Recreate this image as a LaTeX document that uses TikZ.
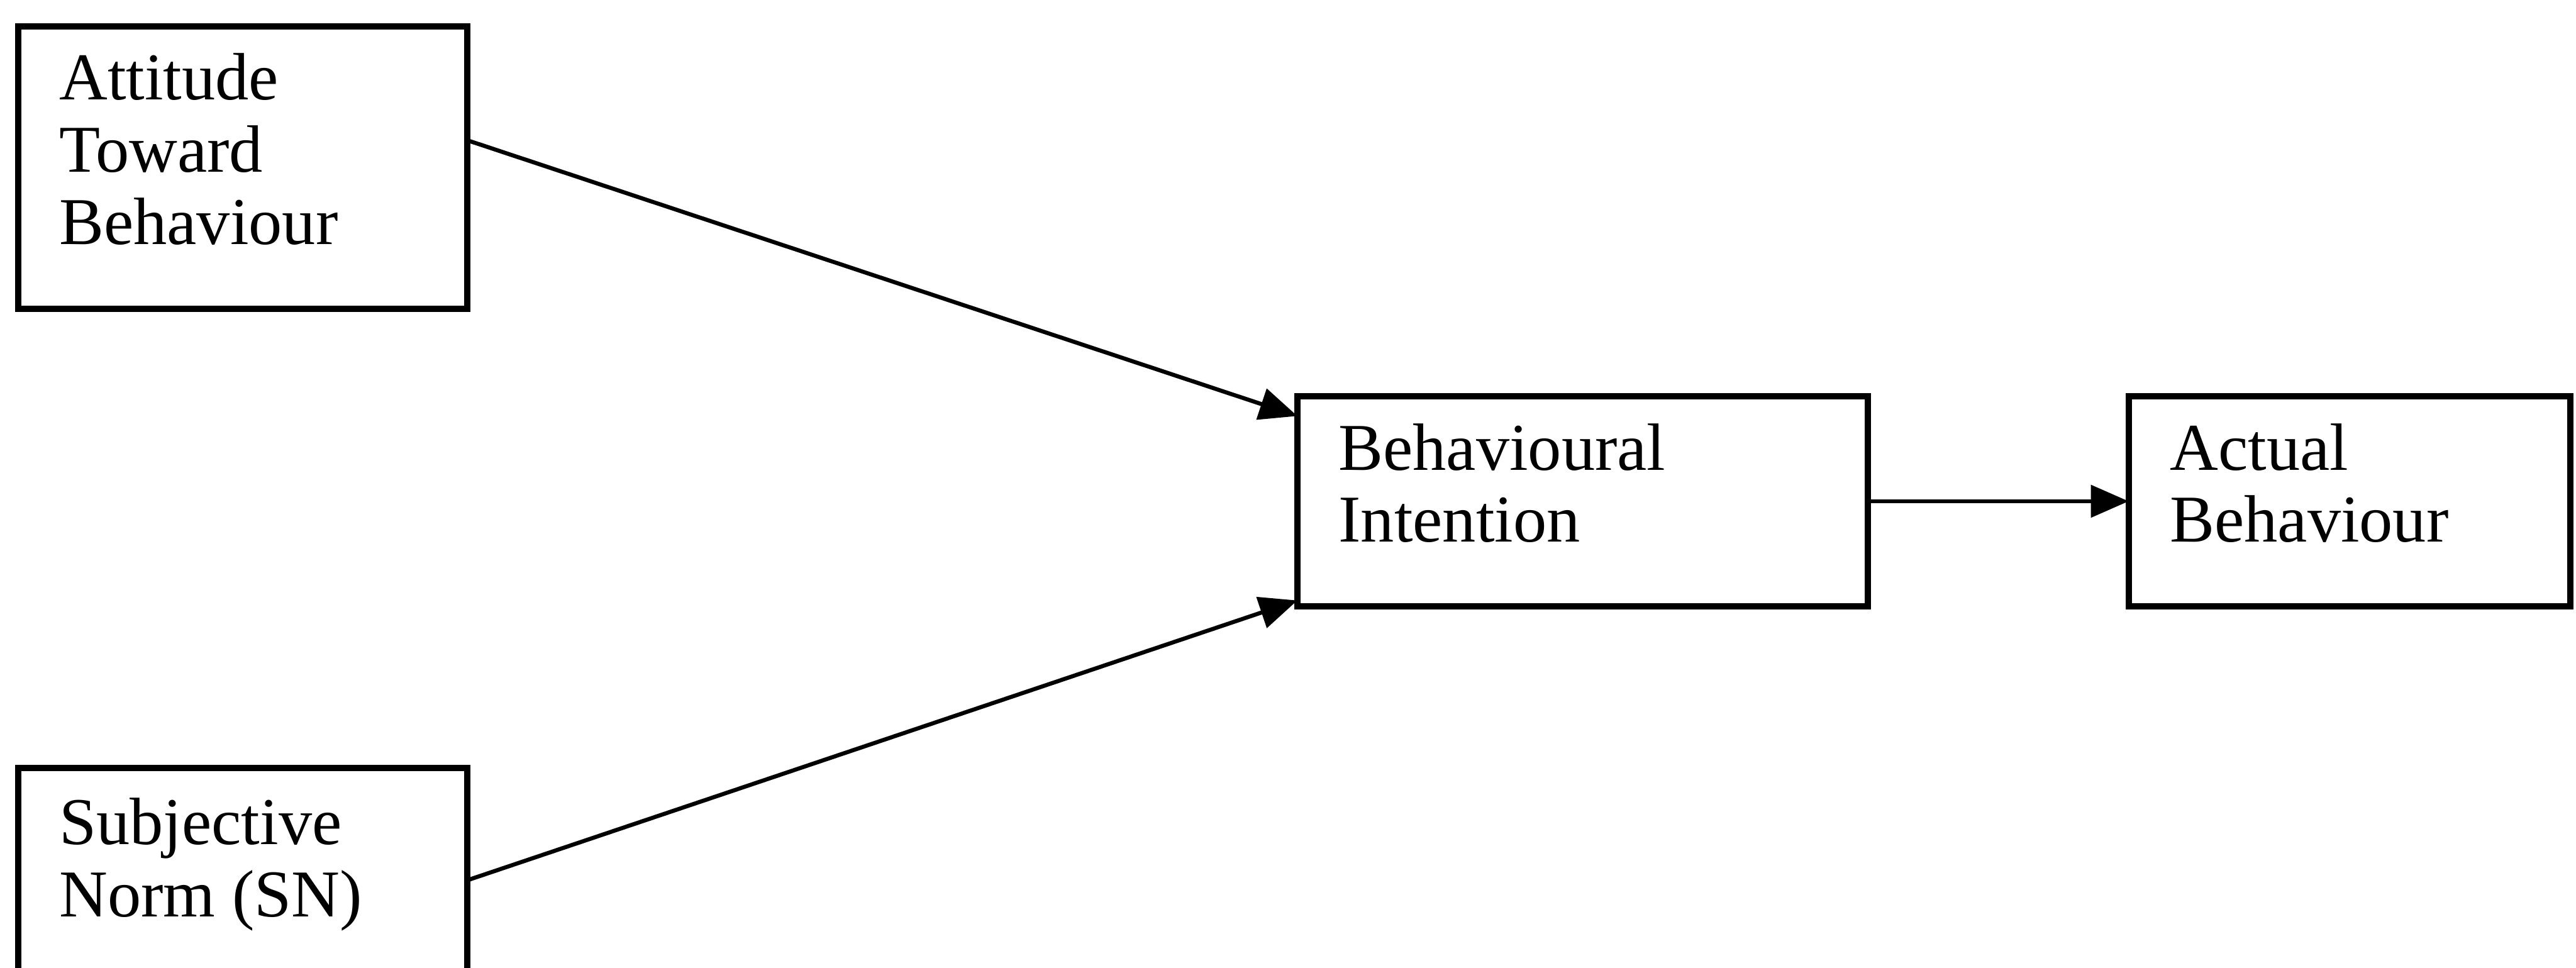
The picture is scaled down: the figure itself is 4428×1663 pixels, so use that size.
\documentclass[tikz,border=0pt]{standalone}
\usepackage{fontspec}
\setmainfont{Liberation Serif}
\usetikzlibrary{arrows.meta}
\begin{document}
\begin{tikzpicture}[x=0.1pt,y=-0.1pt,
  box/.style={draw, line width=1.1pt, rectangle, inner sep=0pt, outer sep=0pt},
  lbl/.style={anchor=north west, inner sep=0pt, outer sep=0pt, align=left,
              font=\fontsize{11.5}{12.4}\selectfont},
  link/.style={line width=0.7pt, -{Triangle[length=6.5pt,width=5.5pt]}}]
  % page area
  \clip (0,0) rectangle (4428,1663);
  \fill[white] (0,0) rectangle (4428,1663);

  % boxes (the lower-left one runs past the bottom edge)
  \node[box, minimum width=77.2pt, minimum height=48.6pt] (att) at (417,288) {};
  \node[box, minimum width=77.2pt, minimum height=48.6pt] (sn)  at (417,1563) {};
  \node[box, minimum width=98.1pt, minimum height=36.1pt] (bi)  at (2720.5,861.5) {};
  \node[box, minimum width=75.9pt, minimum height=36.1pt] (ab)  at (4038.5,861.5) {};

  % labels
  \node[lbl] (attT) at ([xshift=7.1pt,yshift=-4.7pt]att.north west) {Attitude\\Toward\\Behaviour};
  \node[lbl] (snT)  at ([xshift=7.1pt,yshift=-5.2pt]sn.north west)  {Subjective\\Norm (SN)};
  \node[lbl] (biT)  at ([xshift=7.1pt,yshift=-4.7pt]bi.north west)  {Behavioural\\Intention};
  \node[lbl] (abT)  at ([xshift=7.1pt,yshift=-4.7pt]ab.north west)  {Actual\\Behaviour};

  % connectors
  \draw[link] ([yshift=4.7pt]att.east) -- ([yshift=-3.4pt]bi.north west);
  \draw[link] ([yshift=-19.3pt]sn.north east) -- ([yshift=1pt]bi.south west);
  \draw[link] (bi.east) -- (ab.west);
\end{tikzpicture}
\end{document}
